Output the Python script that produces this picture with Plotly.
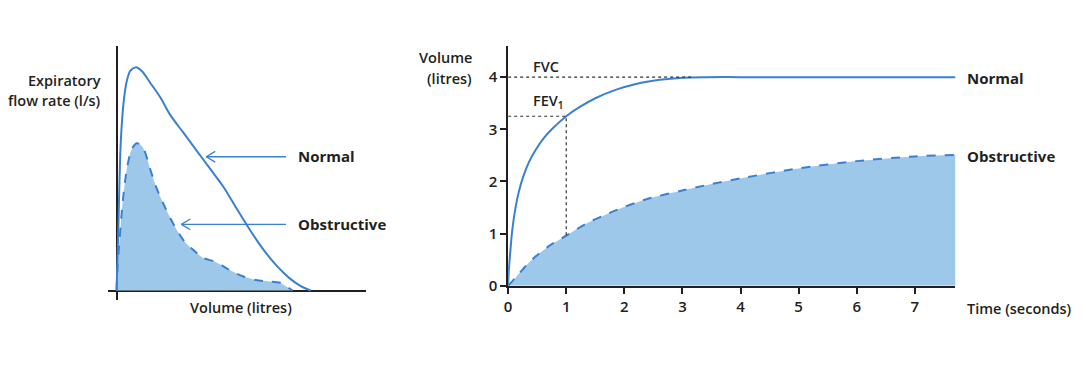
import plotly.graph_objects as go

# ---------------- Data ----------------
# Left: flow-volume curves (volume in litres, flow in l/s; arbitrary scale, no ticks shown)
fv_normal_vol = [0, 0.02, 0.051, 0.094, 0.137, 0.197, 0.265, 0.35, 0.50, 0.65, 0.86, 1.12, 1.38,
                 1.72, 2.06, 2.40, 2.74, 3.08, 3.42, 3.76, 4.10, 4.44, 4.74, 5.00]
fv_normal_flow = [0, 1.2, 3.14, 6.05, 7.50, 8.67, 9.40, 9.83, 10.0, 9.83, 9.32, 8.67, 7.87,
                  7.07, 6.27, 5.47, 4.67, 3.70, 2.75, 1.88, 1.15, 0.57, 0.20, 0]
fv_obs_vol = [0, 0.026, 0.077, 0.137, 0.197, 0.282, 0.393, 0.52, 0.65, 0.735, 0.86, 1.03, 1.25,
              1.46, 1.72, 1.97, 2.23, 2.49, 2.74, 2.90, 3.25, 3.59, 3.93, 4.19, 4.36, 4.53]
fv_obs_flow = [0, 1.10, 2.26, 3.57, 4.59, 5.61, 6.34, 6.60, 6.48, 6.19, 5.47, 4.59, 3.72,
               2.99, 2.26, 1.83, 1.46, 1.32, 1.10, 0.93, 0.64, 0.47, 0.41, 0.36, 0.20, 0]

# Right: volume-time curves (time in s, volume in litres)
vt_normal_t = [0, 0.012, 0.04, 0.07, 0.127, 0.185, 0.27, 0.36, 0.47, 0.62, 0.76, 1.0, 1.22,
               1.51, 1.86, 2.2, 2.61, 3.01, 3.4, 4, 5, 6, 7, 7.7]
vt_normal_v = [0, 0.31, 0.69, 1.06, 1.50, 1.81, 2.125, 2.375, 2.60, 2.84, 3.01, 3.25, 3.42,
               3.60, 3.76, 3.87, 3.95, 3.99, 4.0, 4.0, 4.0, 4.0, 4.0, 4.0]
vt_obs_t = [0, 0.127, 0.3, 0.47, 0.70, 1.0, 1.34, 1.63, 1.97, 2.38, 3.01, 3.5, 4, 5, 6, 7, 7.7]
vt_obs_v = [0, 0.156, 0.375, 0.56, 0.76, 0.96, 1.19, 1.34, 1.50, 1.66, 1.83, 1.95, 2.06, 2.25,
            2.39, 2.48, 2.51]

time_ticks = [0, 1, 2, 3, 4, 5, 6, 7]
volume_ticks = [0, 1, 2, 3, 4]
fvc_value = 4.0
fev1_value = 3.25
fev1_time = 1.0
obs_at_1s = 0.96
plateau_end_t = 3.2

LINE = "#3A80D2"
FILL = "#9DC8E9"
AX = "#231F20"
DOT = "#333333"
FONT = "Open Sans"

fig = go.Figure()

# Left panel
fig.add_trace(go.Scatter(x=fv_obs_vol, y=fv_obs_flow, mode="lines", fill="tozeroy",
                         fillcolor=FILL,
                         line=dict(color=LINE, width=2, dash="dash", shape="spline", smoothing=0.8),
                         xaxis="x", yaxis="y", hoverinfo="skip"))
fig.add_trace(go.Scatter(x=fv_normal_vol, y=fv_normal_flow, mode="lines",
                         line=dict(color=LINE, width=2, shape="spline", smoothing=0.8),
                         xaxis="x", yaxis="y", hoverinfo="skip"))

# Right panel
fig.add_trace(go.Scatter(x=vt_obs_t, y=vt_obs_v, mode="lines", fill="tozeroy",
                         fillcolor=FILL,
                         line=dict(color=LINE, width=2, dash="dash", shape="spline", smoothing=0.8),
                         xaxis="x2", yaxis="y2", hoverinfo="skip"))
fig.add_trace(go.Scatter(x=vt_normal_t, y=vt_normal_v, mode="lines",
                         line=dict(color=LINE, width=2, shape="spline", smoothing=0.8),
                         xaxis="x2", yaxis="y2", hoverinfo="skip"))
# dotted guides
fig.add_trace(go.Scatter(x=[0, plateau_end_t], y=[fvc_value, fvc_value], mode="lines",
                         line=dict(color=DOT, width=1.2, dash="dot"), xaxis="x2", yaxis="y2",
                         hoverinfo="skip"))
fig.add_trace(go.Scatter(x=[0, fev1_time, fev1_time], y=[fev1_value, fev1_value, obs_at_1s],
                         mode="lines", line=dict(color=DOT, width=1.2, dash="dot"),
                         xaxis="x2", yaxis="y2", hoverinfo="skip"))

W, H = 1086, 366
def px(x):
    return x / W
def py(y):
    return 1 - y / H

TICKFONT = dict(size=15, family=FONT, color=AX, weight=600)

fig.update_layout(
    width=W, height=H, margin=dict(l=0, r=0, t=0, b=0),
    paper_bgcolor="white", plot_bgcolor="rgba(0,0,0,0)", showlegend=False,
    font=dict(family=FONT, color=AX),
    xaxis=dict(domain=[px(104), px(363)], range=[-0.23, 6.41], showgrid=False,
               showticklabels=False, showline=False, zeroline=True, zerolinecolor=AX,
               zerolinewidth=1.5, fixedrange=True),
    yaxis=dict(domain=[py(308), py(47)], range=[-0.44, 10.96], showgrid=False,
               showticklabels=False, showline=False, zeroline=True, zerolinecolor=AX,
               zerolinewidth=1.5, fixedrange=True),
    xaxis2=dict(domain=[px(506), px(955)], range=[0, 7.7], anchor="y2", showgrid=False,
                zeroline=False, showline=True, linecolor=AX, linewidth=1.5,
                ticks="outside", ticklen=6, tickwidth=1.5, tickcolor=AX,
                tickvals=time_ticks, ticktext=[str(t) for t in time_ticks],
                tickfont=TICKFONT, fixedrange=True),
    yaxis2=dict(domain=[py(293), py(47)], range=[0, 4.6], anchor="x2", showgrid=False,
                zeroline=False, showline=True, linecolor=AX, linewidth=1.5,
                ticks="outside", ticklen=6, tickwidth=1.5, tickcolor=AX,
                tickvals=volume_ticks, ticktext=[str(v) for v in volume_ticks],
                tickfont=TICKFONT, fixedrange=True),
)

ann = []
def text(x, y, s, size=14.5, weight=600, xanchor="left", align="left"):
    ann.append(dict(xref="paper", yref="paper", x=px(x), y=py(y), text=s, showarrow=False,
                    xanchor=xanchor, yanchor="middle", align=align,
                    font=dict(family=FONT, size=size, color=AX, weight=weight)))

# Left panel texts
text(99, 83, "Expiratory", xanchor="right", align="right")
text(99, 103, "flow rate (l/s)", xanchor="right", align="right")
text(238, 315, "Volume (litres)", xanchor="center")
text(293, 160, "Normal", size=15, weight=700)
text(293, 230, "Obstructive", size=15, weight=700)

# arrows (pointer lines with open arrowheads)
shapes = []
for y_ar, x_tip in [(160.7, 203), (230, 178)]:
    for (x0, y0, x1, y1) in [(x_tip, y_ar, 283, y_ar),
                             (x_tip, y_ar, x_tip + 9, y_ar - 5.5),
                             (x_tip, y_ar, x_tip + 9, y_ar + 5.5)]:
        shapes.append(dict(type="line", xref="paper", yref="paper",
                           x0=px(x0), y0=py(y0), x1=px(x1), y1=py(y1),
                           line=dict(color=LINE, width=1.3)))

# Right panel texts
text(472, 59, "Volume", xanchor="right", align="right")
text(472, 80, "(litres)", xanchor="right", align="right")
text(529, 68, "FVC")
text(529, 104, "FEV<sub>1</sub>")
text(965, 80, "Normal", size=15, weight=700)
text(965, 160, "Obstructive", size=15, weight=700)
text(965, 316, "Time (seconds)")

fig.update_layout(annotations=ann, shapes=shapes)
fig.write_html("out.html", config={"displayModeBar": False},
               post_script="document.body.style.margin='0';document.body.style.overflow='hidden';"
                           "window.scrollTo(0,0);")
